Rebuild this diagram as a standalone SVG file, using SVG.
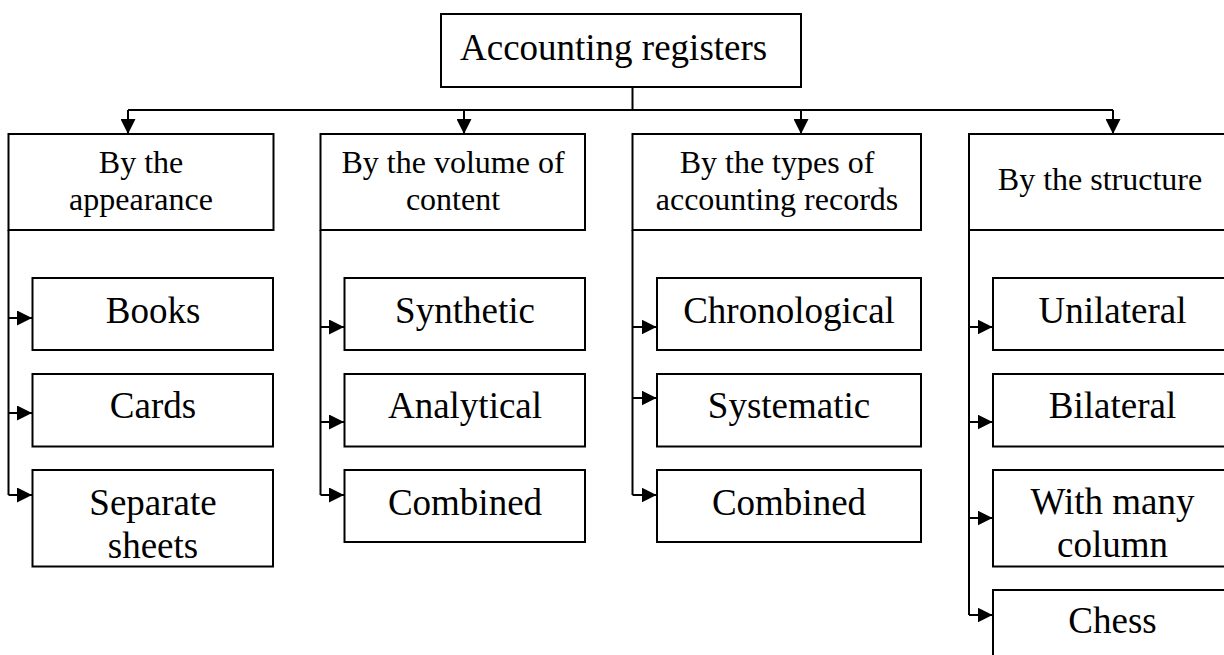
<svg xmlns="http://www.w3.org/2000/svg" width="1224" height="655" viewBox="0 0 1224 655">
  <style>
    .box { fill: #ffffff; stroke: #000000; stroke-width: 2; }
    .wire { fill: none; stroke: #000000; stroke-width: 2; }
    .t { font-family: "Liberation Serif", "Times New Roman", serif; fill: #000000; text-anchor: middle; }
    .root { font-size: 37px; text-anchor: start; }
    .cat { font-size: 32px; }
    .item { font-size: 37px; }
  </style>
  <defs>
    <marker id="arr" markerUnits="userSpaceOnUse" markerWidth="16" markerHeight="15" refX="15" refY="7.5" orient="auto">
      <path d="M0,0 L15,7.5 L0,15 Z" fill="#000000"/>
    </marker>
  </defs>

  <rect width="1224" height="655" fill="#ffffff"/>

  <!-- connectors -->
  <g id="connectors">
    <!-- root to categories -->
    <path class="wire" d="M632.5,87 V110 M128,110 H1113"/>
    <line class="wire" x1="128" y1="110" x2="128" y2="134" marker-end="url(#arr)"/>
    <line class="wire" x1="464" y1="110" x2="464" y2="134" marker-end="url(#arr)"/>
    <line class="wire" x1="801" y1="110" x2="801" y2="134" marker-end="url(#arr)"/>
    <line class="wire" x1="1113" y1="110" x2="1113" y2="134" marker-end="url(#arr)"/>

    <!-- column 1 -->
    <path class="wire" d="M8.5,230 V495"/>
    <line class="wire" x1="8.5" y1="318" x2="32" y2="318" marker-end="url(#arr)"/>
    <line class="wire" x1="8.5" y1="413" x2="32" y2="413" marker-end="url(#arr)"/>
    <line class="wire" x1="8.5" y1="495" x2="32" y2="495" marker-end="url(#arr)"/>

    <!-- column 2 -->
    <path class="wire" d="M320.5,230 V495"/>
    <line class="wire" x1="320.5" y1="327" x2="344" y2="327" marker-end="url(#arr)"/>
    <line class="wire" x1="320.5" y1="422" x2="344" y2="422" marker-end="url(#arr)"/>
    <line class="wire" x1="320.5" y1="495" x2="344" y2="495" marker-end="url(#arr)"/>

    <!-- column 3 -->
    <path class="wire" d="M632.5,230 V495"/>
    <line class="wire" x1="632.5" y1="327" x2="656.5" y2="327" marker-end="url(#arr)"/>
    <line class="wire" x1="632.5" y1="398" x2="656.5" y2="398" marker-end="url(#arr)"/>
    <line class="wire" x1="632.5" y1="495" x2="656.5" y2="495" marker-end="url(#arr)"/>

    <!-- column 4 -->
    <path class="wire" d="M969,230 V615"/>
    <line class="wire" x1="969" y1="327" x2="992.5" y2="327" marker-end="url(#arr)"/>
    <line class="wire" x1="969" y1="422" x2="992.5" y2="422" marker-end="url(#arr)"/>
    <line class="wire" x1="969" y1="518" x2="992.5" y2="518" marker-end="url(#arr)"/>
    <line class="wire" x1="969" y1="615" x2="992.5" y2="615" marker-end="url(#arr)"/>
  </g>

  <!-- root -->
  <g id="root">
    <rect class="box" x="441" y="14" width="360" height="73"/>
    <text class="t root" x="460" y="60">Accounting registers</text>
  </g>

  <!-- categories -->
  <g id="cat-appearance">
    <rect class="box" x="8.5" y="134" width="265" height="96"/>
    <text class="t cat" x="141" y="173">By the</text>
    <text class="t cat" x="141" y="210">appearance</text>
  </g>
  <g id="cat-volume">
    <rect class="box" x="320.5" y="134" width="264.5" height="96"/>
    <text class="t cat" x="453" y="173">By the volume of</text>
    <text class="t cat" x="453" y="210">content</text>
  </g>
  <g id="cat-records">
    <rect class="box" x="632.5" y="134" width="288.5" height="96"/>
    <text class="t cat" x="777" y="173">By the types of</text>
    <text class="t cat" x="777" y="210">accounting records</text>
  </g>
  <g id="cat-structure">
    <rect class="box" x="969" y="134" width="263" height="96"/>
    <text class="t cat" x="1100" y="190">By the structure</text>
  </g>

  <!-- column 1 items -->
  <g id="books">
    <rect class="box" x="32.5" y="278" width="240.5" height="72"/>
    <text class="t item" x="153" y="323">Books</text>
  </g>
  <g id="cards">
    <rect class="box" x="32.5" y="374" width="240.5" height="72.5"/>
    <text class="t item" x="153" y="418">Cards</text>
  </g>
  <g id="separate-sheets">
    <rect class="box" x="32.5" y="470" width="240.5" height="96.5"/>
    <text class="t item" x="153" y="515">Separate</text>
    <text class="t item" x="153" y="558">sheets</text>
  </g>

  <!-- column 2 items -->
  <g id="synthetic">
    <rect class="box" x="344.5" y="278" width="240.5" height="72"/>
    <text class="t item" x="465" y="323">Synthetic</text>
  </g>
  <g id="analytical">
    <rect class="box" x="344.5" y="374" width="240.5" height="72.5"/>
    <text class="t item" x="465" y="418">Analytical</text>
  </g>
  <g id="combined-1">
    <rect class="box" x="344.5" y="470" width="240.5" height="72"/>
    <text class="t item" x="465" y="515">Combined</text>
  </g>

  <!-- column 3 items -->
  <g id="chronological">
    <rect class="box" x="657" y="278" width="264" height="72"/>
    <text class="t item" x="789" y="323">Chronological</text>
  </g>
  <g id="systematic">
    <rect class="box" x="657" y="374" width="264" height="72.5"/>
    <text class="t item" x="789" y="418">Systematic</text>
  </g>
  <g id="combined-2">
    <rect class="box" x="657" y="470" width="264" height="72"/>
    <text class="t item" x="789" y="515">Combined</text>
  </g>

  <!-- column 4 items -->
  <g id="unilateral">
    <rect class="box" x="993" y="278" width="239" height="72"/>
    <text class="t item" x="1112.5" y="323">Unilateral</text>
  </g>
  <g id="bilateral">
    <rect class="box" x="993" y="374" width="239" height="72.5"/>
    <text class="t item" x="1112.5" y="418">Bilateral</text>
  </g>
  <g id="many-column">
    <rect class="box" x="993" y="470" width="239" height="96.5"/>
    <text class="t item" x="1112.5" y="514">With many</text>
    <text class="t item" x="1112.5" y="557">column</text>
  </g>
  <g id="chess">
    <rect class="box" x="993" y="590" width="239" height="75"/>
    <text class="t item" x="1112.5" y="633">Chess</text>
  </g>
</svg>
